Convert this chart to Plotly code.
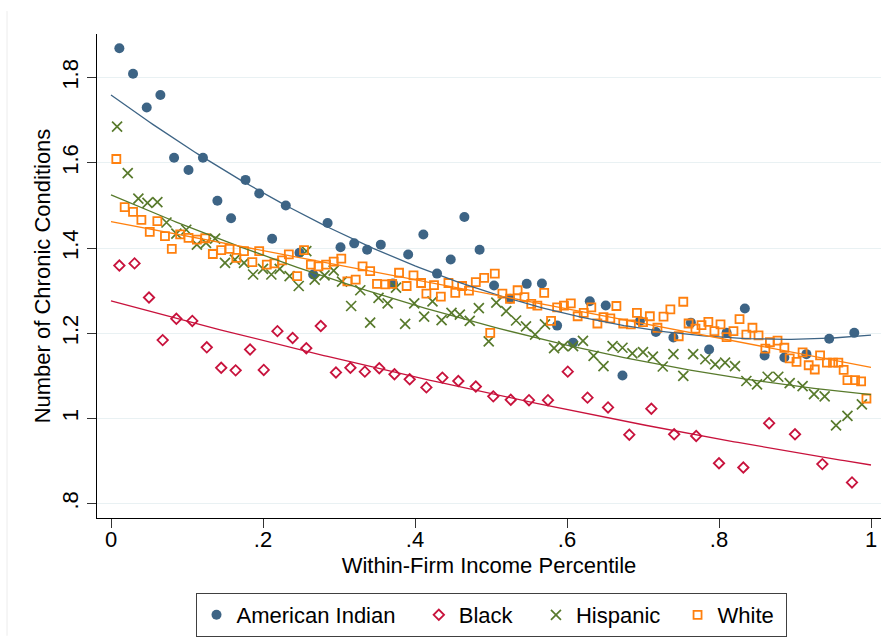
import numpy as np
import plotly.graph_objects as go

# Binned means of chronic conditions by within-firm income percentile
ai_x = [0.011, 0.029, 0.047, 0.065, 0.083, 0.102, 0.121, 0.140, 0.158, 0.177, 0.195, 0.212,
        0.230, 0.248, 0.266, 0.285, 0.302, 0.320, 0.337, 0.355, 0.371, 0.391, 0.411, 0.429,
        0.447, 0.465, 0.485, 0.504, 0.525, 0.547, 0.567, 0.587, 0.608, 0.630, 0.651, 0.673,
        0.696, 0.717, 0.740, 0.763, 0.787, 0.810, 0.834, 0.860, 0.886, 0.915, 0.945, 0.978]
ai_y = [1.869, 1.809, 1.730, 1.759, 1.612, 1.583, 1.612, 1.511, 1.470, 1.560, 1.528, 1.422,
        1.500, 1.389, 1.338, 1.459, 1.402, 1.411, 1.396, 1.408, 1.317, 1.385, 1.432, 1.340,
        1.373, 1.473, 1.396, 1.312, 1.281, 1.316, 1.317, 1.218, 1.178, 1.275, 1.265, 1.101,
        1.229, 1.203, 1.190, 1.225, 1.162, 1.201, 1.258, 1.148, 1.143, 1.151, 1.187, 1.201]

black_x = [0.011, 0.031, 0.050, 0.068, 0.086, 0.107, 0.126, 0.145, 0.164, 0.183, 0.201, 0.219,
           0.239, 0.257, 0.276, 0.296, 0.315, 0.334, 0.353, 0.373, 0.393, 0.415, 0.436, 0.457,
           0.480, 0.503, 0.526, 0.550, 0.575, 0.601, 0.627, 0.654, 0.682, 0.711, 0.741, 0.770,
           0.800, 0.832, 0.866, 0.900, 0.936, 0.975]
black_y = [1.359, 1.364, 1.284, 1.184, 1.234, 1.229, 1.167, 1.119, 1.113, 1.162, 1.114, 1.205,
           1.189, 1.165, 1.217, 1.108, 1.119, 1.110, 1.118, 1.104, 1.092, 1.073, 1.096, 1.088,
           1.075, 1.052, 1.044, 1.043, 1.043, 1.110, 1.049, 1.026, 0.962, 1.023, 0.963, 0.959,
           0.895, 0.885, 0.989, 0.963, 0.893, 0.850]

hisp_x = [0.008, 0.022, 0.036, 0.048, 0.061, 0.073, 0.086, 0.099, 0.113, 0.125, 0.137, 0.150,
          0.163, 0.175, 0.187, 0.200, 0.211, 0.222, 0.235, 0.247, 0.257, 0.268, 0.281, 0.293,
          0.304, 0.316, 0.328, 0.341, 0.352, 0.364, 0.375, 0.387, 0.399, 0.412, 0.423, 0.435,
          0.448, 0.459, 0.472, 0.484, 0.497, 0.507, 0.520, 0.533, 0.546, 0.558, 0.571, 0.583,
          0.595, 0.608, 0.621, 0.635, 0.648, 0.660, 0.673, 0.686, 0.700, 0.713, 0.726, 0.740,
          0.753, 0.766, 0.782, 0.795, 0.808, 0.821, 0.836, 0.850, 0.864, 0.878, 0.893, 0.910,
          0.925, 0.939, 0.954, 0.969, 0.988]
hisp_y = [1.685, 1.576, 1.516, 1.506, 1.508, 1.460, 1.434, 1.443, 1.408, 1.412, 1.422, 1.365,
          1.373, 1.365, 1.338, 1.351, 1.338, 1.351, 1.334, 1.311, 1.393, 1.326, 1.336, 1.347,
          1.321, 1.264, 1.301, 1.225, 1.283, 1.270, 1.307, 1.222, 1.270, 1.239, 1.275, 1.231,
          1.248, 1.244, 1.229, 1.259, 1.181, 1.272, 1.252, 1.230, 1.216, 1.197, 1.221, 1.165,
          1.170, 1.170, 1.182, 1.147, 1.123, 1.170, 1.166, 1.153, 1.156, 1.145, 1.122, 1.151,
          1.100, 1.151, 1.139, 1.127, 1.131, 1.123, 1.088, 1.080, 1.098, 1.098, 1.083, 1.076,
          1.057, 1.052, 0.984, 1.006, 1.033]

white_x = [0.007, 0.018, 0.029, 0.040, 0.051, 0.061, 0.071, 0.080, 0.091, 0.102, 0.113, 0.124,
           0.134, 0.145, 0.156, 0.165, 0.175, 0.186, 0.195, 0.205, 0.215, 0.225, 0.234, 0.245,
           0.254, 0.263, 0.273, 0.283, 0.293, 0.303, 0.311, 0.322, 0.331, 0.341, 0.350, 0.361,
           0.370, 0.379, 0.389, 0.398, 0.408, 0.415, 0.425, 0.434, 0.444, 0.453, 0.462, 0.471,
           0.480, 0.491, 0.499, 0.505, 0.515, 0.525, 0.535, 0.544, 0.553, 0.561, 0.570, 0.579,
           0.587, 0.596, 0.605, 0.614, 0.622, 0.632, 0.640, 0.648, 0.657, 0.665, 0.674, 0.684,
           0.692, 0.700, 0.709, 0.719, 0.727, 0.736, 0.747, 0.753, 0.760, 0.769, 0.777, 0.786,
           0.794, 0.802, 0.810, 0.819, 0.827, 0.836, 0.844, 0.852, 0.861, 0.867, 0.877, 0.886,
           0.893, 0.902, 0.910, 0.918, 0.926, 0.933, 0.942, 0.950, 0.957, 0.964, 0.969, 0.979,
           0.987, 0.994]
white_y = [1.609, 1.496, 1.485, 1.466, 1.438, 1.463, 1.428, 1.398, 1.432, 1.424, 1.420, 1.423,
           1.386, 1.395, 1.398, 1.377, 1.393, 1.367, 1.393, 1.361, 1.364, 1.371, 1.385, 1.334,
           1.395, 1.361, 1.357, 1.361, 1.368, 1.375, 1.322, 1.326, 1.357, 1.346, 1.316, 1.315,
           1.316, 1.342, 1.311, 1.336, 1.318, 1.293, 1.313, 1.286, 1.318, 1.295, 1.311, 1.300,
           1.320, 1.330, 1.201, 1.340, 1.293, 1.281, 1.301, 1.285, 1.269, 1.265, 1.295, 1.229,
           1.261, 1.265, 1.270, 1.240, 1.248, 1.261, 1.223, 1.238, 1.235, 1.264, 1.223, 1.221,
           1.248, 1.226, 1.240, 1.213, 1.239, 1.256, 1.193, 1.274, 1.223, 1.211, 1.219, 1.227,
           1.205, 1.221, 1.191, 1.205, 1.233, 1.197, 1.213, 1.195, 1.164, 1.179, 1.183, 1.166,
           1.141, 1.133, 1.155, 1.125, 1.115, 1.148, 1.131, 1.131, 1.131, 1.114, 1.090, 1.090,
           1.087, 1.047]

x_ticks = [0, 0.2, 0.4, 0.6, 0.8, 1]
x_tick_labels = ["0", ".2", ".4", ".6", ".8", "1"]
y_ticks = [0.8, 1.0, 1.2, 1.4, 1.6, 1.8]
y_tick_labels = [".8", "1", "1.2", "1.4", "1.6", "1.8"]

FONT = "Arial, 'Liberation Sans', sans-serif"
C_AI = "#3d6485"
C_BLACK = "#c8123c"
C_HISP = "#587a2c"
C_WHITE = "#ff800e"

NB = "\u00a0"  # trailing non-breaking spaces widen the gaps between legend entries

groups = [
    ("American Indian", 3, ai_x, ai_y, C_AI, dict(symbol="circle", size=10, color=C_AI)),
    ("Black", 3, black_x, black_y, C_BLACK,
     dict(symbol="diamond-open", size=8, color=C_BLACK, line=dict(color=C_BLACK, width=1.8))),
    ("Hispanic", 2, hisp_x, hisp_y, C_HISP,
     dict(symbol="x-thin-open", size=10, color=C_HISP, line=dict(color=C_HISP, width=1.7))),
    ("White", 1, white_x, white_y, C_WHITE,
     dict(symbol="square-open", size=8, color=C_WHITE, line=dict(color=C_WHITE, width=1.8))),
]

fig = go.Figure()

for name, pad, xs, ys, color, marker in groups:
    fig.add_trace(go.Scatter(x=xs, y=ys, mode="markers", name=name + NB * pad,
                             marker=marker))

# Quadratic fit for each group over the percentile domain
grid = np.linspace(0.0, 1.0, 201)
for name, pad, xs, ys, color, _ in groups:
    coef = np.polyfit(np.array(xs), np.array(ys), 2)
    fig.add_trace(go.Scatter(x=grid, y=np.polyval(coef, grid), mode="lines",
                             line=dict(color=color, width=1.3),
                             showlegend=False, hoverinfo="skip"))

W, H = 881, 637
ML, MR, MT, MB = 97, 0, 34, 118
pw, ph = W - ML - MR, H - MT - MB

fig.update_layout(
    width=W, height=H,
    margin=dict(l=ML, r=MR, t=MT, b=MB, pad=0),
    paper_bgcolor="white", plot_bgcolor="white",
    font=dict(family=FONT, size=22, color="black"),
    showlegend=True,
    legend=dict(
        orientation="h",
        x=(491 - ML) / pw, xanchor="center",
        y=(MT + ph - 594) / ph, yanchor="top",
        bordercolor="#404040", borderwidth=1, bgcolor="white",
        font=dict(family=FONT, size=22, color="black"),
        itemwidth=30,
    ),
    xaxis=dict(
        range=[-14 / 760, 770 / 760],
        tickmode="array", tickvals=x_ticks, ticktext=x_tick_labels,
        ticks="outside", ticklen=9, tickwidth=1, tickcolor="#333333",
        ticklabelstandoff=-7,
        showline=True, linecolor="black", linewidth=1,
        showgrid=False, zeroline=False,
        tickfont=dict(family=FONT, size=22),
        title=dict(text="Within-Firm Income Percentile", font=dict(family=FONT, size=22),
                   standoff=6),
    ),
    yaxis=dict(
        range=[0.8 - 14.3 / 427, 0.8 + 470.7 / 427],
        tickmode="array", tickvals=y_ticks, ticktext=y_tick_labels,
        tickangle=-90,
        ticks="outside", ticklen=9, tickwidth=1, tickcolor="#333333",
        showline=True, linecolor="black", linewidth=1,
        showgrid=True, gridcolor="#e9f1f3", gridwidth=1.3, zeroline=False,
        tickfont=dict(family=FONT, size=22),
        title=dict(text="Number of Chronic Conditions", font=dict(family=FONT, size=22),
                   standoff=1),
    ),
    shapes=[dict(type="line", xref="paper", yref="paper",
                 x0=(7 - ML) / pw, x1=(7 - ML) / pw,
                 y0=(MT + ph - 11) / ph, y1=(MT + ph - H) / ph,
                 line=dict(color="#ececec", width=1))],
)

fig.write_html("out.html")
